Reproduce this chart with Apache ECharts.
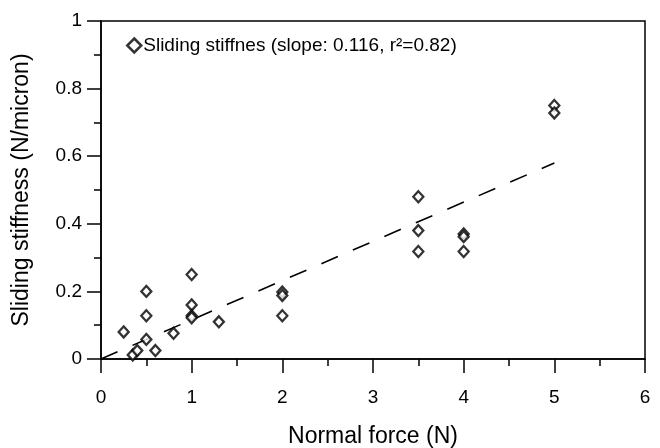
<!DOCTYPE html>
<html>
<head>
<meta charset="utf-8">
<script src="https://cdn.jsdelivr.net/npm/echarts@6/dist/echarts.min.js"></script>
<style>html,body{margin:0;padding:0;background:#fff}#c{width:660px;height:448px}</style>
</head>
<body>
<div id="c"></div>
<script>
var normalForce = [0.25, 0.35, 0.4, 0.5, 0.5, 0.5, 0.6, 0.8, 1, 1, 1, 1, 1.3, 2, 2, 2, 3.5, 3.5, 3.5, 4, 4, 4, 5, 5];
var stiffness   = [0.08, 0.012, 0.025, 0.2, 0.128, 0.058, 0.025, 0.076, 0.25, 0.16, 0.128, 0.122, 0.11, 0.198, 0.188, 0.128, 0.48, 0.38, 0.318, 0.37, 0.362, 0.318, 0.75, 0.728];
var fitSlope = 0.116;
var fitX = [0, 5];
var seriesName = 'Sliding stiffnes (slope: 0.116, r\u00B2=0.82)';

var pts = normalForce.map(function(x, i){ return [x, stiffness[i]]; });
var fit = fitX.map(function(x){ return [x, fitSlope * x]; });
var font = 'Liberation Sans, Arial, sans-serif';

var chart = echarts.init(document.getElementById('c'));
chart.setOption({
  animation: false,
  backgroundColor: '#fff',
  grid: {left: 101, right: 15, top: 21, bottom: 89, outerBoundsMode: 'none', containLabel: false,
    show: true, borderColor: '#000', borderWidth: 1.5, backgroundColor: 'transparent'},
  legend: {
    data: [{name: seriesName, itemStyle: {borderWidth: 2.5}}], left: 121, top: 31, itemWidth: 14, itemHeight: 14, itemGap: 4,
    textStyle: {fontFamily: font, fontSize: 19, color: '#000', padding: [0,0,0,-3]}
  },
  xAxis: {
    type: 'value', min: 0, max: 6, interval: 1,
    name: 'Normal force (N)', nameLocation: 'middle', nameGap: 66,
    nameTextStyle: {fontFamily: font, fontSize: 23, color: '#000'},
    axisLine: {onZero: false, lineStyle: {color: '#000', width: 1.5}},
    axisTick: {inside: false, length: 14, lineStyle: {color: '#000', width: 1.5}},
    minorTick: {show: true, splitNumber: 2, length: 7, lineStyle: {color: '#000', width: 1.5}},
    axisLabel: {fontFamily: font, fontSize: 19, color: '#000', margin: 29},
    splitLine: {show: false}
  },
  yAxis: {
    type: 'value', min: 0, max: 1, interval: 0.2,
    name: 'Sliding stiffness (N/micron)', nameLocation: 'middle', nameGap: 68,
    nameTextStyle: {fontFamily: font, fontSize: 23, color: '#000'},
    axisLine: {onZero: false, lineStyle: {color: '#000', width: 1.5}},
    axisTick: {inside: false, length: 14, lineStyle: {color: '#000', width: 1.5}},
    minorTick: {show: true, splitNumber: 2, length: 7, lineStyle: {color: '#000', width: 1.5}},
    axisLabel: {fontFamily: font, fontSize: 19, color: '#000', margin: 19,
      formatter: function(v){ return String(Math.round(v*10)/10); }},
    splitLine: {show: false}
  },
  series: [
    {
      name: 'fit', type: 'line', data: fit, showSymbol: false, symbol: 'none',
      lineStyle: {color: '#000', width: 1.6, type: [18, 16.3], dashOffset: 0}, z: 1, silent: true
    },
    {
      name: seriesName, type: 'scatter', data: pts, symbol: 'diamond', symbolSize: [10, 11],
      itemStyle: {color: '#fff', borderColor: '#000', borderWidth: 2.3}, z: 3
    }
  ]
});
</script>
</body>
</html>
